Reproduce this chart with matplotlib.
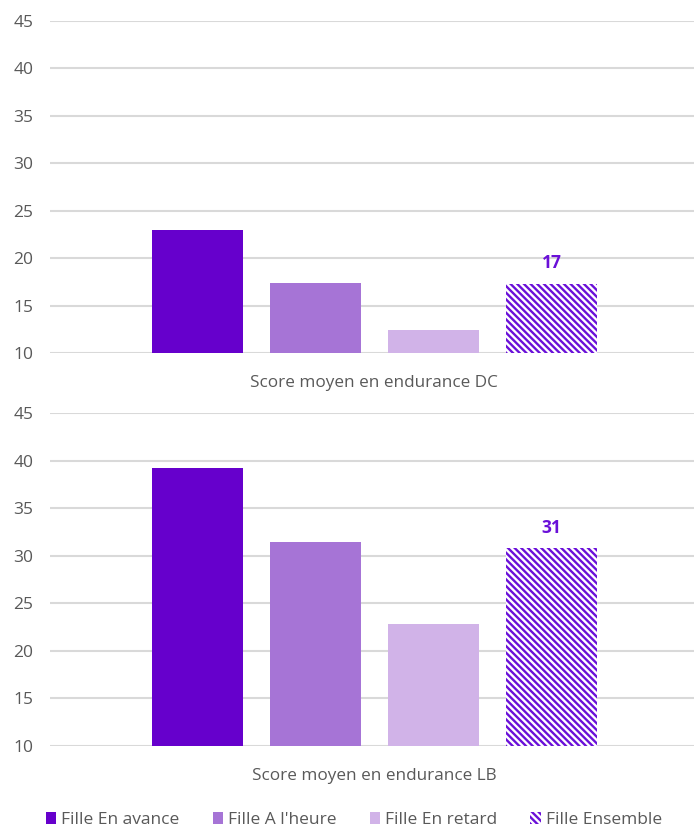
import matplotlib.pyplot as plt
from matplotlib.patches import Patch

# scores moyens d'endurance chez les filles, par groupe d'âge relatif
groupes = ['Fille En avance', "Fille A l'heure", 'Fille En retard', 'Fille Ensemble']
score_dc = [23.0, 17.4, 12.4, 17.3]
score_lb = [39.2, 31.4, 22.8, 30.8]
titre_dc = 'Score moyen en endurance DC'
titre_lb = 'Score moyen en endurance LB'

couleurs = ['#6600CC', '#A674D6', '#D1B3E8']
violet_hachure = '#6A10D8'
gris = '#595959'
hachure = '\\' * 5

plt.rcParams['font.family'] = ['Open Sans', 'DejaVu Sans']
plt.rcParams['hatch.linewidth'] = 1.7

fig = plt.figure(figsize=(6.94, 8.27), dpi=100)
ax_dc = fig.add_axes([0.072, 0.5732, 0.935, 0.4014])
ax_lb = fig.add_axes([0.072, 0.0979, 0.935, 0.4027])


def trace(ax, scores, titre):
    x = list(range(len(scores)))
    for i in range(3):
        ax.bar(x[i], scores[i] - 10, bottom=10, width=0.77, color=couleurs[i],
               linewidth=0, zorder=3)
    # barre "Ensemble" hachurée
    ax.bar(x[3], scores[3] - 10, bottom=10, width=0.77, facecolor='white',
           edgecolor=violet_hachure, hatch=hachure, linewidth=0, zorder=3)
    ax.text(x[3], scores[3] + 1.2, f'{scores[3]:.0f}', ha='center', va='bottom',
            fontsize=12.5, fontweight='bold', color=violet_hachure)
    ax.set_ylim(10, 45)
    ax.set_xlim(-1.25, 4.25)
    ax.set_yticks(range(10, 46, 5))
    ax.yaxis.grid(True, color='#D9D9D9', linewidth=1.5, zorder=0)
    ax.set_axisbelow(True)
    ax.set_xticks([1.5])
    ax.set_xticklabels([titre], color=gris)
    ax.tick_params(axis='both', length=0, labelsize=12.5, labelcolor=gris)
    ax.tick_params(axis='x', pad=16, labelsize=12.3)
    ax.tick_params(axis='y', pad=12)
    for s in ax.spines.values():
        s.set_visible(False)


trace(ax_dc, score_dc, titre_dc)
trace(ax_lb, score_lb, titre_lb)

poignees = [Patch(facecolor=c, linewidth=0) for c in couleurs]
poignees.append(Patch(facecolor='white', edgecolor=violet_hachure, hatch=hachure, linewidth=0))
fig.legend(poignees, groupes, loc='lower center', bbox_to_anchor=(0.51, -0.02), ncol=4,
           frameon=False, fontsize=12.5, labelcolor=gris, handlelength=0.6,
           handleheight=0.75, handletextpad=0.3, columnspacing=1.9)

fig.savefig('out.png', dpi=100)
